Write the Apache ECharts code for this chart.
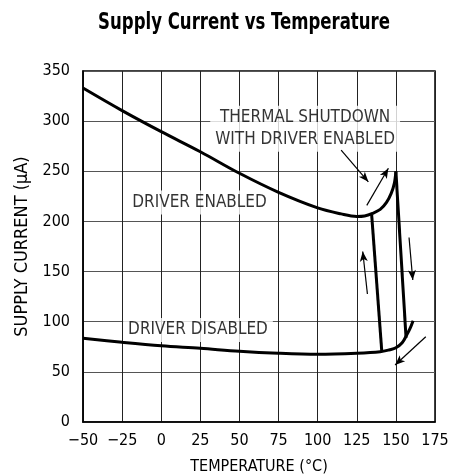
<!DOCTYPE html>
<html>
<head>
<meta charset="utf-8">
<script src="https://cdn.jsdelivr.net/npm/echarts@6/dist/echarts.min.js"></script>
<style>
  html, body { margin: 0; padding: 0; background: #fff; }
  #chart { width: 453px; height: 476px; }
</style>
</head>
<body>
<div id="chart"></div>
<script>
  // values
  const xTicks = [-50, -25, 0, 25, 50, 75, 100, 125, 150, 175];
  const yTicks = [0, 50, 100, 150, 200, 250, 300, 350];

  const enabledTemp = [-50, -25, 0, 25, 50, 75, 100, 115, 125, 130, 135, 140, 144, 147, 149, 150];
  const enabledCur  = [333, 310.5, 289.5, 269.5, 248, 229, 213.5, 207.5, 205, 205.5, 208, 212, 219, 228, 238, 250];

  const disabledTemp = [-50, -25, 0, 25, 50, 75, 100, 125, 140, 146, 150, 154, 157, 159, 161];
  const disabledCur  = [83.5, 79.5, 76, 73.5, 70.5, 68.5, 67.5, 68.5, 70, 72, 74, 79, 87, 93, 101];

  // shutdown / recovery jumps
  const dropTemp = [134.5, 141];
  const dropCur  = [207, 70];
  const peakTemp = [150, 156.5];
  const peakCur  = [250, 84];

  // arrows: [fromT, fromI, toT, toI]
  const arrows = [
    [115, 271, 132.4, 239.5],
    [131.4, 216, 145.2, 253],
    [131.8, 127.6, 128.8, 170],
    [158.4, 184, 160.8, 141.6],
    [169.1, 85, 149.5, 56.8]
  ];

  const notes = [
    { text: 'THERMAL SHUTDOWN\nWITH DRIVER ENABLED', t: 92, i: 292.5 },
    { text: 'DRIVER ENABLED', t: 24.5, i: 218.8 },
    { text: 'DRIVER DISABLED', t: 23.5, i: 91.7 }
  ];

  const font = "'Liberation Sans Narrow', 'DejaVu Sans Condensed', 'Roboto', sans-serif";

  function zip(a, b) {
    return a.map((v, k) => [v, b[k]]);
  }

  let chart = echarts.init(document.getElementById('chart'));
  let option = {
    animation: false,
    graphic: [
      {
        type: 'text',
        x: 244,
        y: 12,
        scaleX: 0.8,
        style: {
          text: 'Supply Current vs Temperature',
          align: 'center',
          verticalAlign: 'top',
          font: "bold 23px " + font,
          fill: '#000'
        }
      }
    ],
    grid: {
      left: 83,
      right: 18,
      top: 71,
      bottom: 54,
      outerBoundsMode: 'none',
      show: true,
      borderColor: '#000',
      borderWidth: 1.5
    },
    xAxis: {
      type: 'value',
      min: xTicks[0],
      max: xTicks[xTicks.length - 1],
      interval: 25,
      name: 'TEMPERATURE (°C)',
      nameLocation: 'middle',
      nameGap: 37,
      nameTextStyle: { fontFamily: font, fontSize: 16, color: '#000' },
      axisLine: { onZero: false, lineStyle: { color: '#000', width: 1.5 } },
      axisTick: { show: false },
      axisLabel: {
        margin: 11,
        fontFamily: font,
        fontSize: 16,
        color: '#000',
        formatter: v => (v < 0 ? '\u2212' + Math.abs(v) : String(v))
      },
      splitLine: { show: true, lineStyle: { color: '#222', width: 1 } }
    },
    yAxis: {
      type: 'value',
      min: yTicks[0],
      max: yTicks[yTicks.length - 1],
      interval: 50,
      name: 'SUPPLY CURRENT (\u03bcA)',
      nameLocation: 'middle',
      nameGap: 50,
      nameTextStyle: { fontFamily: font, fontSize: 18, color: '#000' },
      axisLine: { show: true, onZero: false, lineStyle: { color: '#000', width: 1.5 } },
      axisTick: { show: false },
      axisLabel: { margin: 13, fontFamily: font, fontSize: 16, color: '#000' },
      splitLine: { show: true, lineStyle: { color: '#555', width: 1 } }
    },
    series: [
      {
        type: 'line',
        name: 'enabled',
        data: zip(enabledTemp, enabledCur),
        smooth: 0.35,
        symbol: 'none',
        lineStyle: { color: '#000', width: 3 },
        z: 3
      },
      {
        type: 'line',
        name: 'disabled',
        data: zip(disabledTemp, disabledCur),
        smooth: 0.35,
        symbol: 'none',
        lineStyle: { color: '#000', width: 3 },
        z: 3
      },
      {
        type: 'line',
        data: zip(dropTemp, dropCur),
        symbol: 'none',
        lineStyle: { color: '#000', width: 3 },
        z: 3
      },
      {
        type: 'line',
        data: zip(peakTemp, peakCur),
        symbol: 'none',
        lineStyle: { color: '#000', width: 3 },
        z: 3,
        markLine: {
          silent: true,
          symbol: ['none', 'arrow'],
          symbolSize: [6, 10],
          label: { show: false },
          lineStyle: { color: '#000', width: 1.2, type: 'solid' },
          data: arrows.map(a => [{ coord: [a[0], a[1]] }, { coord: [a[2], a[3]] }])
        }
      },
      {
        type: 'scatter',
        symbolSize: 0,
        z: 2,
        data: notes.map(n => ({ value: [n.t, n.i], label: { formatter: n.text } })),
        label: {
          show: true,
          position: 'inside',
          fontFamily: font,
          fontSize: 17,
          lineHeight: 22,
          color: '#000',
          backgroundColor: '#fff',
          padding: [1, 5]
        }
      }
    ]
  };
  chart.setOption(option);
</script>
</body>
</html>
